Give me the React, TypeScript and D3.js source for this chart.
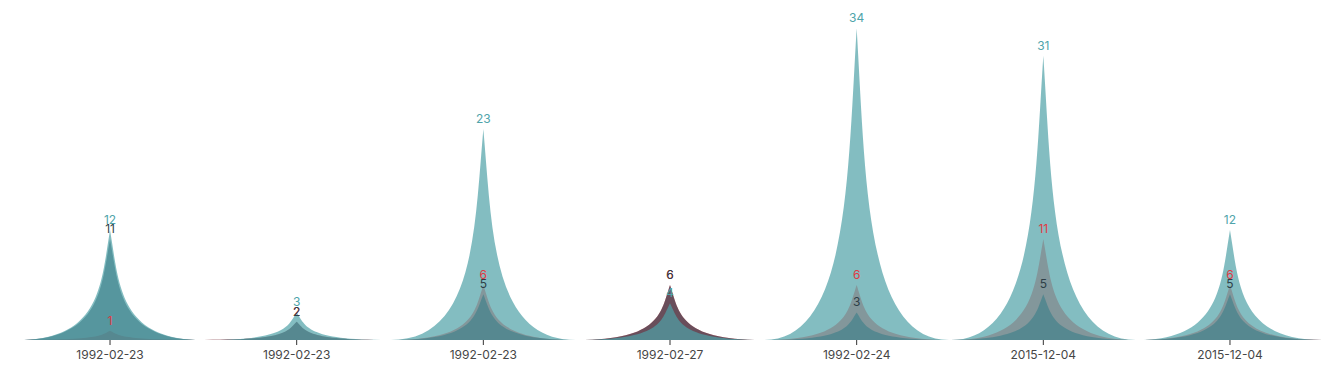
import React from 'react';
import * as d3 from 'd3';

const categories = ['1992-02-23', '1992-02-23', '1992-02-23', '1992-02-27', '1992-02-24', '2015-12-04', '2015-12-04'];
const redValues = [1, 2, 6, 6, 6, 11, 6];
const darkValues = [11, 2, 5, 6, 3, 5, 5];
const tealValues = [12, 3, 23, 4, 34, 31, 12];

const W = 1336;
const H = 369;
const left = 16.7;
const right = 1323.3;
const baseY = 340;
const topY = 19;
const yMax = 35;

const series = [
  { name: 'red', values: redValues, fill: 'rgb(255,0,0)', opacity: 0.5, label: '#e03a44' },
  { name: 'dark', values: darkValues, fill: 'rgb(20,50,70)', opacity: 0.64, label: '#2e3f47' },
  { name: 'teal', values: tealValues, fill: 'rgb(79,161,166)', opacity: 0.7, label: '#4fa4aa' },
];

function spikePath(cx: number, w: number, y0: number, y1: number) {
  const p = d3.path();
  const l = cx - w / 2;
  const h = y0 - y1;
  const mid = y1 + h * 0.5;
  p.moveTo(l, y0);
  p.lineTo(l + w, y0);
  p.bezierCurveTo(l + 0.55 * w, y0, l + 0.55 * w, mid, cx, y1);
  p.bezierCurveTo(l + 0.45 * w, mid, l + 0.45 * w, y0, l, y0);
  p.closePath();
  return p.toString();
}

export default function App() {
  const idx = categories.map((_, i) => i);
  const x = d3.scaleBand<number>().domain(idx).range([left, right]).padding(0);
  const y = d3.scaleLinear().domain([0, yMax]).range([baseY, topY]);
  const bw = x.bandwidth();
  const sw = bw * 0.99;
  const font = 'Inter, "Noto Sans", Arial, sans-serif';

  return (
    <svg width={W} height={H} style={{ position: 'absolute', left: 0, top: 0, display: 'block' }}>
      {series.map((s) => (
        <g key={s.name}>
          {s.values.map((v, i) => {
            const cx = (x(i) as number) + bw / 2;
            return (
              <path key={i} d={spikePath(cx, sw, y(0), y(v))} fill={s.fill} fillOpacity={s.opacity} />
            );
          })}
        </g>
      ))}
      {idx.map((i) => {
        const cx = (x(i) as number) + bw / 2;
        return (
          <g key={'t' + i}>
            <line x1={cx} x2={cx} y1={baseY} y2={baseY + 5} stroke="#333" strokeWidth={1} />
            <text x={cx} y={359} textAnchor="middle" fontSize={12} fontFamily={font} fill="#464646">
              {categories[i]}
            </text>
          </g>
        );
      })}
      {series.map((s) => (
        <g key={'l' + s.name}>
          {s.values.map((v, i) => {
            const cx = (x(i) as number) + bw / 2;
            return (
              <text key={i} x={cx} y={y(v) - 6} textAnchor="middle" fontSize={12} fontFamily={font} fill={s.label}>
                {v}
              </text>
            );
          })}
        </g>
      ))}
    </svg>
  );
}
